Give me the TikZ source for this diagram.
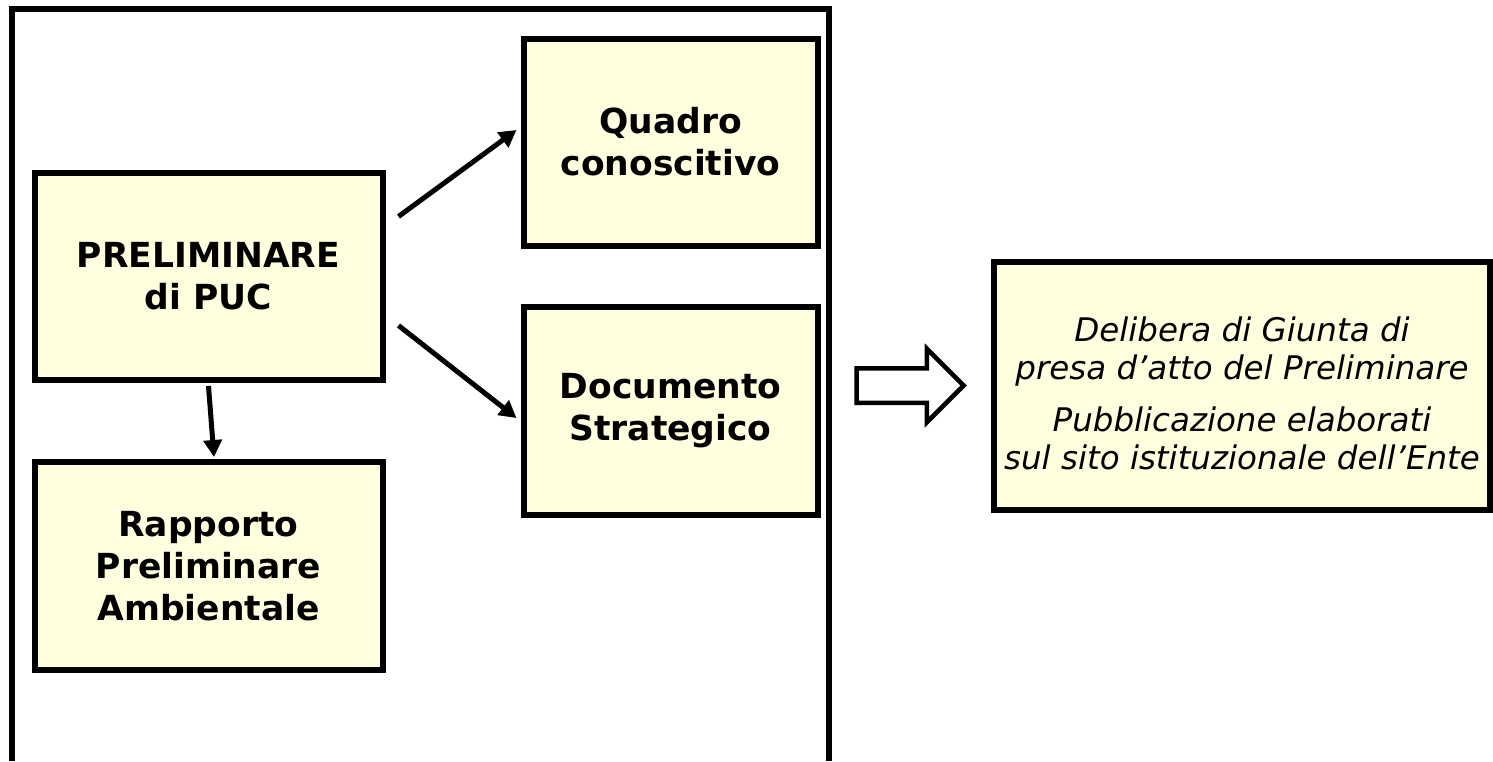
\documentclass[tikz,border=0pt]{standalone}
\usepackage{fontspec}
\setmainfont{DejaVu Sans}
\usetikzlibrary{arrows.meta,shapes.arrows}
\definecolor{boxfill}{RGB}{255,255,224}
\tikzset{
    stepbox/.style={draw=black, line width=6pt, fill=boxfill, align=center,
        inner sep=0pt, font=\fontsize{34.5}{42}\selectfont\bfseries},
    notebox/.style={draw=black, line width=6pt, fill=boxfill, align=center,
        inner sep=0pt, font=\fontsize{32.5}{38}\selectfont\itshape},
    conn/.style={line width=5pt, -{Triangle[length=17pt,width=18pt]}},
    frame/.style={line width=6pt},
    blockarrow/.style={single arrow, draw=black, line width=4.5pt, fill=white,
        inner xsep=0pt, inner ysep=15pt, minimum height=107pt,
        single arrow head extend=19.5pt, single arrow tip angle=90}
}
\begin{document}
\begin{tikzpicture}[x=1pt,y=-1pt]
    \useasboundingbox (0,0) rectangle (1493,761);
    \draw[frame] (12,761) -- (12,9) -- (828.5,9) -- (828.5,761);
    \node[stepbox, minimum width=348pt, minimum height=207pt] (prelim) at (208.5,276.5) {PRELIMINARE\\di PUC};
    \node[stepbox, minimum width=348pt, minimum height=208pt] (rapporto) at (208.5,566) {Rapporto\\Preliminare\\Ambientale};
    \node[stepbox, minimum width=294pt, minimum height=207pt] (quadro) at (670.5,142) {Quadro\\conoscitivo};
    \node[stepbox, minimum width=294pt, minimum height=208pt] (documento) at (670.5,411) {Documento\\Strategico};
    \node[notebox, minimum width=496pt, minimum height=248pt] (delibera) at (1242,386) {\rule{0pt}{40pt}Delibera di Giunta di\\presa d’atto del Preliminare\\[14pt]Pubblicazione elaborati\\sul sito istituzionale dell’Ente};
    \node[blockarrow] (passo) at (901.5,385.5) {};
    \draw[conn] ([shift={(13,-60)}]prelim.east) -- ([shift={(-4,-12)}]quadro.west);
    \draw[conn] ([shift={(13,49)}]prelim.east) -- ([shift={(-4,7)}]documento.west);
    \draw[conn] ([shift={(0,3)}]prelim.south) -- ([shift={(5.5,-2)}]rapporto.north);
\end{tikzpicture}
\end{document}
